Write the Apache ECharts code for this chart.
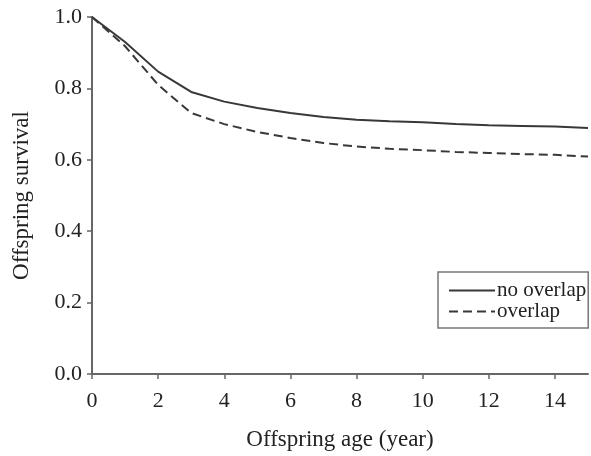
<!DOCTYPE html>
<html>
<head>
<meta charset="utf-8">
<script src="https://cdn.jsdelivr.net/npm/echarts@6/dist/echarts.min.js"></script>
<style>
  html, body { margin: 0; padding: 0; background: #fff; }
  #chart { width: 591px; height: 456px; }
</style>
</head>
<body>
<div id="chart"></div>
<script>
// offspring age (year)
const ages = [0, 1, 2, 3, 4, 5, 6, 7, 8, 9, 10, 11, 12, 13, 14, 15];
// survival
const noOverlap = [1.0, 0.93, 0.847, 0.79, 0.763, 0.745, 0.731, 0.72, 0.712, 0.708, 0.705, 0.70, 0.697, 0.695, 0.693, 0.689];
const overlap = [1.0, 0.918, 0.81, 0.731, 0.70, 0.678, 0.661, 0.647, 0.637, 0.631, 0.627, 0.622, 0.619, 0.616, 0.614, 0.609];
const seriesNames = ['no overlap', 'overlap'];

const font = 'Liberation Serif, Times New Roman, serif';
const ink = '#222';
const axisGray = '#666';

let chart = echarts.init(document.getElementById('chart'));

function pairs(ys) {
  return ages.map((a, i) => [a, ys[i]]);
}

let option = {
  animation: false,
  grid: { left: 92, right: 3, top: 17, bottom: 82 },
  legend: {
    orient: 'vertical',
    left: 438,
    top: 272,
    padding: [8, 2, 6, 10],
    itemGap: 0,
    itemWidth: 46,
    itemHeight: 14,
    borderColor: '#777',
    borderWidth: 1.5,
    selectedMode: false,
    // hide the round marker, keep only the line sample
    itemStyle: { opacity: 0 },
    textStyle: { fontFamily: font, fontSize: 21, color: ink, padding: [0, 0, 0, -3] },
    data: seriesNames
  },
  xAxis: {
    type: 'value',
    min: 0,
    max: 15,
    interval: 2,
    name: 'Offspring age (year)',
    nameLocation: 'middle',
    nameGap: 54,
    nameTextStyle: { fontFamily: font, fontSize: 23, color: ink },
    axisLine: { lineStyle: { color: axisGray, width: 2 } },
    axisTick: { show: true, length: 5, lineStyle: { color: axisGray, width: 1.5 } },
    axisLabel: {
      fontFamily: font, fontSize: 22, color: ink, margin: 16,
      showMaxLabel: false
    },
    splitLine: { show: false }
  },
  yAxis: {
    type: 'value',
    min: 0,
    max: 1,
    interval: 0.2,
    name: 'Offspring survival',
    nameLocation: 'middle',
    nameGap: 59,
    nameTextStyle: { fontFamily: font, fontSize: 23, color: ink },
    axisLine: { show: true, lineStyle: { color: axisGray, width: 2 } },
    axisTick: { show: true, length: 5, lineStyle: { color: axisGray, width: 1.5 } },
    axisLabel: {
      fontFamily: font, fontSize: 22, color: ink, margin: 10,
      formatter: v => v.toFixed(1)
    },
    splitLine: { show: false }
  },
  series: [
    {
      name: seriesNames[0],
      type: 'line',
      data: pairs(noOverlap),
      symbol: 'none',
      lineStyle: { color: '#383838', width: 2, type: 'solid' },
      itemStyle: { color: '#383838' }
    },
    {
      name: seriesNames[1],
      type: 'line',
      data: pairs(overlap),
      symbol: 'none',
      lineStyle: { color: '#383838', width: 2, type: [9, 5] },
      itemStyle: { color: '#383838' }
    }
  ]
};

chart.setOption(option, true);
</script>
</body>
</html>
